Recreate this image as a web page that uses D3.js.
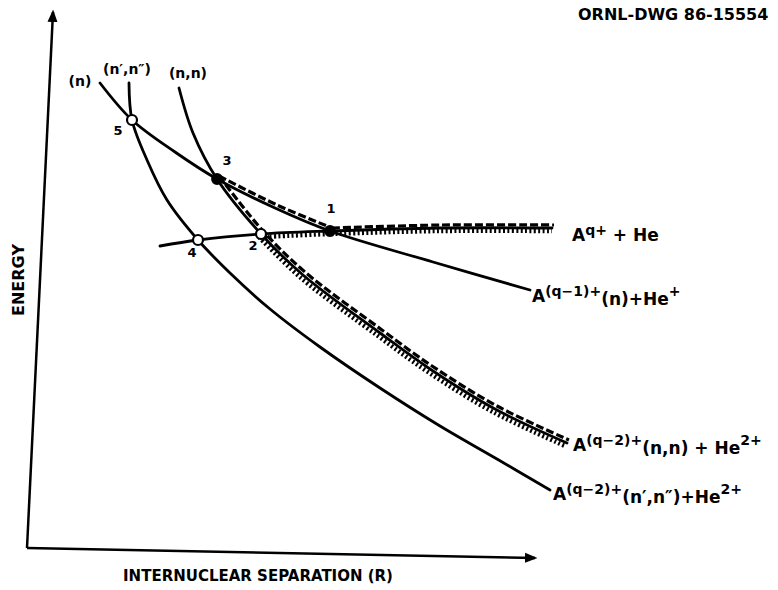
<!DOCTYPE html>
<html lang="en">
<head>
<meta charset="utf-8">
<title>Potential energy curves</title>
<script src="https://cdn.jsdelivr.net/npm/d3@7/dist/d3.min.js"></script>
<style>
  body { margin: 0; background: #fff; }
  text { font-family: "DejaVu Sans", sans-serif; font-weight: bold; fill: #000; }
</style>
</head>
<body>
<div id="chart"></div>
<script>
// R and energy in arbitrary units
const axisY = [[0.4, 0.4], [5.6, 107.6]];
const axisX = [[0.4, 0.4], [102, -1.6]];

// A(q-1)+ (n) + He+
const curveN = [[15, 93.4], [21.4, 86], [30, 79.6], [38.4, 74.2], [50, 68.4], [61, 63.8], [81.6, 57.6], [101, 52]];
// A(q-2)+ (n',n'') + He2+
const curveNpNpp = [[20.8, 93.4], [21.4, 86], [24.4, 78], [28.4, 70], [34.6, 62], [41, 55.4], [49, 48.2], [59, 40.6], [71, 32.4], [83, 24.8], [94.4, 18.2], [105, 12]];
// A(q-2)+ (n,n) + He2+
const curveNN = [[30.8, 92.4], [33.6, 83.4], [38.4, 74.2], [47.2, 63.2], [55.6, 55], [71, 43.4], [81, 36.2], [94, 28.2], [108.4, 21.4]];
// Aq+ + He
const curveFlat = [[27, 60.8], [34.6, 62], [47.2, 63.2], [61, 63.8], [83, 64.4], [105.4, 64.4]];

// crossings
const crossings = [
  { id: "1", R: 61, E: 63.8, open: false },
  { id: "2", R: 47.2, E: 63.2, open: true },
  { id: "3", R: 38.4, E: 74.2, open: false },
  { id: "4", R: 34.6, E: 62, open: true },
  { id: "5", R: 21.4, E: 86, open: true }
];

const width = 778, height = 590;

const svg = d3.select("#chart").append("svg")
    .attr("width", width)
    .attr("height", height);

const x = d3.scaleLinear().domain([0, 100]).range([25, 525]);
const y = d3.scaleLinear().domain([0, 110]).range([550, 0]);

const line = d3.line()
    .x(d => x(d[0]))
    .y(d => y(d[1]))
    .curve(d3.curveCatmullRom.alpha(0.5));

const straight = d3.line().x(d => x(d[0])).y(d => y(d[1]));

svg.append("defs").append("marker")
    .attr("id", "arrow")
    .attr("viewBox", "0 0 10 10")
    .attr("refX", 8).attr("refY", 5)
    .attr("markerWidth", 5).attr("markerHeight", 5)
    .attr("orient", "auto")
    .append("path")
    .attr("d", "M0,1 L10,5 L0,9 Z")
    .attr("fill", "#000");

// axes
[axisY, axisX].forEach(a => {
  svg.append("path")
      .attr("d", straight(a))
      .attr("fill", "none")
      .attr("stroke", "#000")
      .attr("stroke-width", 2.5)
      .attr("marker-end", "url(#arrow)");
});

// solid curves
[curveN, curveNpNpp, curveNN, curveFlat].forEach(c => {
  svg.append("path")
      .attr("d", line(c))
      .attr("fill", "none")
      .attr("stroke", "#000")
      .attr("stroke-width", 2.8)
      .attr("stroke-linecap", "round");
});

// dashed path: in along Aq+ to 1, over to 3, out along (n,n)
const dashedParts = [
  curveFlat.filter(d => d[0] >= 61),
  curveN.filter(d => d[0] >= 38.4 && d[0] <= 61),
  curveNN.filter(d => d[0] >= 38.4)
];
dashedParts.forEach(p => {
  svg.append("path")
      .attr("d", line(p))
      .attr("transform", "translate(2,-3)")
      .attr("fill", "none")
      .attr("stroke", "#000")
      .attr("stroke-width", 3.2)
      .attr("stroke-dasharray", "8,3");
});

// dotted path: in along Aq+ to 2, out along (n,n)
const dottedParts = [
  curveFlat.filter(d => d[0] >= 47.2),
  curveNN.filter(d => d[0] >= 47.2)
];
dottedParts.forEach((p, i) => {
  svg.append("path")
      .attr("d", line(p))
      .attr("transform", i === 0 ? "translate(0,3)" : "translate(-2,3)")
      .attr("fill", "none")
      .attr("stroke", "#000")
      .attr("stroke-width", 4.5)
      .attr("stroke-dasharray", "2,2.4");
});

// crossing markers
svg.selectAll("circle.cross")
  .data(crossings)
  .enter().append("circle")
    .attr("class", "cross")
    .attr("cx", d => x(d.R))
    .attr("cy", d => y(d.E))
    .attr("r", d => d.open ? 5 : 4.8)
    .attr("fill", d => d.open ? "#fff" : "#000")
    .attr("stroke", "#000")
    .attr("stroke-width", 2.2);

const numOffsets = { "1": [1, -18], "2": [-8, 16], "3": [10, -14], "4": [-6, 17], "5": [-14, 15] };
svg.selectAll("text.num")
  .data(crossings)
  .enter().append("text")
    .attr("class", "num")
    .attr("x", d => x(d.R) + numOffsets[d.id][0])
    .attr("y", d => y(d.E) + numOffsets[d.id][1])
    .attr("text-anchor", "middle")
    .attr("font-size", 13)
    .text(d => d.id);

// curve names at the top
svg.append("text").attr("x", 80).attr("y", 86).attr("text-anchor", "middle").attr("font-size", 14).text("(n)");
svg.append("text").attr("x", 127).attr("y", 74).attr("text-anchor", "middle").attr("font-size", 14).text("(n′,n″)");
svg.append("text").attr("x", 188).attr("y", 78).attr("text-anchor", "middle").attr("font-size", 14).text("(n,n)");

// right-hand state labels
function stateLabel(px, py, parts) {
  const t = svg.append("text").attr("x", px).attr("y", py).attr("font-size", 17);
  parts.forEach(p => {
    const s = t.append("tspan").text(p[0]);
    if (p[1] === "sup") s.attr("font-size", 14).attr("baseline-shift", "40%");
    if (p[1] === "sub") s.attr("baseline-shift", "-20%");
  });
}
stateLabel(572, 241, [["A"], ["q+", "sup"], [" + He"]]);
stateLabel(532, 302, [["A"], ["(q−1)+", "sup"], ["(n)+He", "sub"], ["+", "sup"]]);
stateLabel(573, 451, [["A"], ["(q−2)+", "sup"], ["(n,n) + He", "sub"], ["2+", "sup"]]);
stateLabel(553, 500, [["A"], ["(q−2)+", "sup"], ["(n′,n″)+He", "sub"], ["2+", "sup"]]);

// axis titles
svg.append("text")
    .attr("transform", "translate(24,280) rotate(-90)")
    .attr("text-anchor", "middle")
    .attr("font-size", 16)
    .text("ENERGY");

svg.append("text")
    .attr("x", 258).attr("y", 581)
    .attr("text-anchor", "middle")
    .attr("font-size", 15)
    .text("INTERNUCLEAR SEPARATION (R)");

svg.append("text")
    .attr("x", 578).attr("y", 20)
    .attr("font-size", 16)
    .text("ORNL-DWG 86-15554");
</script>
</body>
</html>
